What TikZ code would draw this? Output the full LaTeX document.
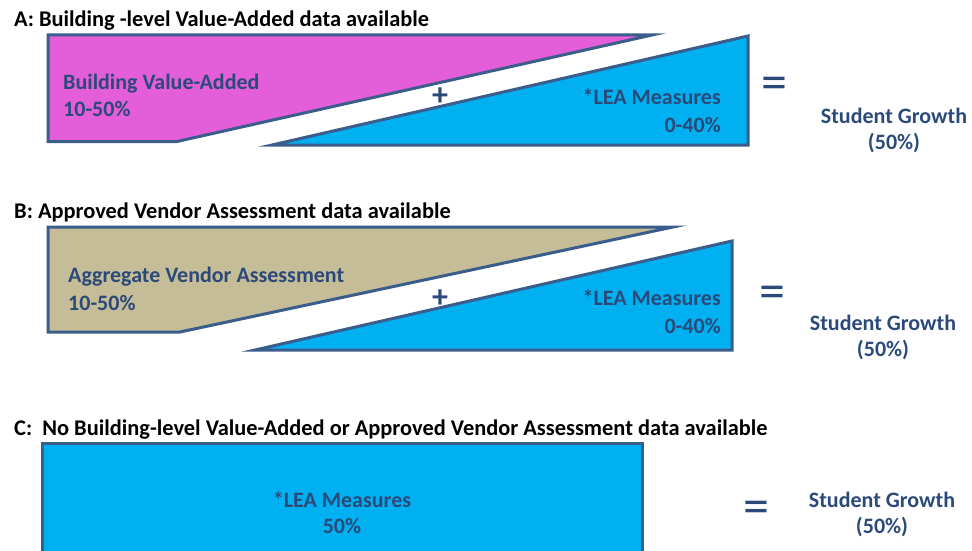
\documentclass[tikz,border=0pt]{standalone}
\usepackage{fontspec}
\setmainfont{Carlito}
\definecolor{edgeblue}{HTML}{3A5D8C}
\definecolor{labelblue}{HTML}{2B4A7A}
\definecolor{vamagenta}{HTML}{E45EDA}
\definecolor{vendortan}{HTML}{C4BD97}
\definecolor{leacyan}{HTML}{00B0F0}
\begin{document}
\begin{tikzpicture}[x=1pt,y=-1pt,
  shapeline/.style={draw=edgeblue, line width=3pt, line join=miter},
  heading/.style={anchor=base west, inner sep=0pt, font=\fontsize{22.4}{26}\selectfont\bfseries, text=black},
  lbl/.style={inner sep=0pt, font=\fontsize{22}{26}\selectfont\bfseries, text=labelblue},
  plussign/.style={inner sep=0pt, font=\fontsize{32}{34}\selectfont\bfseries, text=labelblue},
  eqsign/.style={inner sep=0pt, font=\fontsize{52}{56}\selectfont, text=labelblue}
]
\useasboundingbox (0,0) rectangle (972,551);

% ---------- A: building-level value-added ----------
\node[heading] (titleA) at (14,26.5) {A: Building -level Value-Added data available};
\fill[vamagenta] (48,35) -- (652,35) -- (177,141.5) -- (48,141.5) -- cycle;
\draw[shapeline] (48,35) -- (652,35) -- (177,141.5) -- (48,141.5) -- cycle;
\fill[leacyan] (272,145) -- (748,36) -- (748,145) -- cycle;
\draw[shapeline] (272,145) -- (748,36) -- (748,145) -- cycle;
\node[lbl, anchor=base west] (vaA) at (63,89) {Building Value-Added};
\node[lbl, anchor=base west] (vaApct) at (63,116) {10-50\%};
\node[lbl, anchor=base east] (leaA) at (721,104) {*LEA Measures};
\node[lbl, anchor=base east] (leaApct) at (721,132) {0-40\%};
\node[plussign] (plusA) at (440,97) {+};
\node[eqsign] (eqA) at (774,88) {=};
\node[lbl, anchor=base] (sgA) at (894,123) {Student Growth};
\node[lbl, anchor=base] (sgApct) at (894,149) {(50\%)};

% ---------- B: approved vendor assessment ----------
\node[heading] (titleB) at (14,218) {B: Approved Vendor Assessment data available};
\fill[vendortan] (48,227) -- (673,227) -- (180,332) -- (48,332) -- cycle;
\draw[shapeline] (48,227) -- (673,227) -- (180,332) -- (48,332) -- cycle;
\fill[leacyan] (255,350) -- (732,241) -- (732,350) -- cycle;
\draw[shapeline] (255,350) -- (732,241) -- (732,350) -- cycle;
\node[lbl, anchor=base west] (vendB) at (68,282) {Aggregate Vendor Assessment};
\node[lbl, anchor=base west] (vendBpct) at (68,310) {10-50\%};
\node[lbl, anchor=base east] (leaB) at (721,305) {*LEA Measures};
\node[lbl, anchor=base east] (leaBpct) at (721,333) {0-40\%};
\node[plussign] (plusB) at (440,299) {+};
\node[eqsign] (eqB) at (772,297) {=};
\node[lbl, anchor=base] (sgB) at (883,330) {Student Growth};
\node[lbl, anchor=base] (sgBpct) at (883,356) {(50\%)};

% ---------- C: LEA measures only ----------
\node[heading] (titleC) at (14,435) {C:\ \ No Building-level Value-Added or Approved Vendor Assessment data available};
\fill[leacyan] (42,443) rectangle (642,560);
\draw[shapeline] (42,560) -- (42,443) -- (642,443) -- (642,560);
\node[lbl, anchor=base] (leaC) at (342,507) {*LEA Measures};
\node[lbl, anchor=base] (leaCpct) at (342,533) {50\%};
\node[eqsign] (eqC) at (756,512) {=};
\node[lbl, anchor=base] (sgC) at (882,507) {Student Growth};
\node[lbl, anchor=base] (sgCpct) at (882,533) {(50\%)};
\end{tikzpicture}
\end{document}
